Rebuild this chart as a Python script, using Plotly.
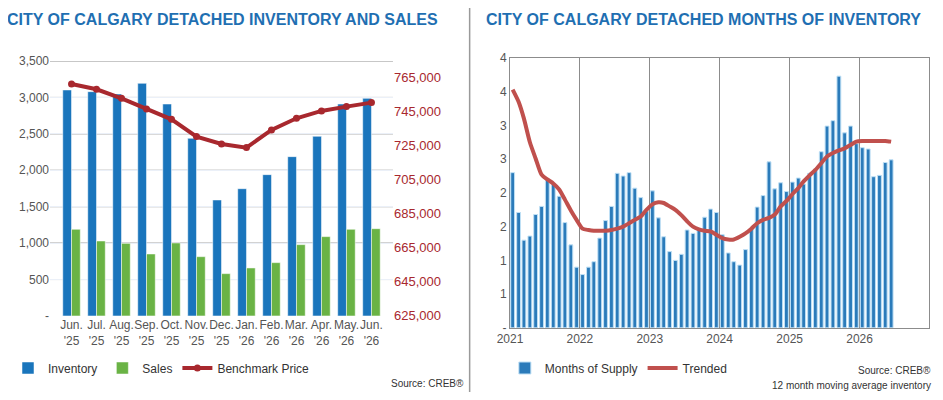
import pandas as pd
import plotly.graph_objects as go
from plotly.subplots import make_subplots

BLUE = "#1a75bc"
GREEN = "#6ab345"
RED = "#a8282e"
TITLE_BLUE = "#1f6fb2"


class CalgaryReport:
    """
    Builds the two-panel detached market summary (inventory/sales and months of supply).
    """

    def __init__(self):
        self.sales_df = pd.DataFrame({
            'month': ["Jun.<br>'25", "Jul.<br>'25", "Aug.<br>'25", "Sep.<br>'25", "Oct.<br>'25", "Nov.<br>'25",
                      "Dec.<br>'25", "Jan.<br>'26", "Feb.<br>'26", "Mar.<br>'26", "Apr.<br>'26", "May.<br>'26",
                      "Jun.<br>'26"],
            'inventory': [3102, 3079, 3047, 3193, 2909, 2438, 1592, 1747, 1940, 2187, 2466, 2909, 2987],
            'sales': [1189, 1029, 997, 851, 1002, 814, 581, 659, 732, 979, 1089, 1189, 1198],
            'price': [761070, 757930, 752630, 746340, 740260, 730050, 725730, 723570, 733980, 740850,
                      745170, 747720, 750080],
        })
        supply = [
            2.30, 1.71, 1.30, 1.36, 1.68, 1.80, 2.21, 2.14, 1.95, 1.56, 1.23, 0.90,  # 2021
            0.79, 0.90, 0.98, 1.33, 1.59, 1.80, 2.29, 2.25, 2.30, 2.07, 1.93, 1.73,  # 2022
            2.03, 1.63, 1.35, 1.13, 1.00, 1.09, 1.45, 1.40, 1.46, 1.64, 1.76, 1.71,  # 2023
            1.38, 1.11, 0.98, 0.93, 1.16, 1.46, 1.79, 1.96, 2.46, 2.06, 2.15, 2.02,  # 2024
            2.16, 2.22, 2.13, 2.29, 2.35, 2.61, 2.99, 3.07, 3.73, 2.89, 2.99, 2.73,  # 2025
            2.67, 2.65, 2.24, 2.26, 2.45, 2.49,  # 2026
        ]
        trend = [
            3.53, 3.35, 3.10, 2.75, 2.51, 2.27, 2.20, 2.14, 2.05, 1.90, 1.74, 1.60,
            1.47, 1.45, 1.44, 1.44, 1.44, 1.45, 1.47, 1.50, 1.55, 1.60, 1.65, 1.75,
            1.83, 1.86, 1.85, 1.80, 1.75, 1.67, 1.58, 1.50, 1.46, 1.44, 1.43, 1.38,
            1.33, 1.31, 1.31, 1.35, 1.40, 1.47, 1.55, 1.60, 1.63, 1.68, 1.80, 1.88,
            1.98, 2.07, 2.17, 2.26, 2.34, 2.44, 2.54, 2.59, 2.63, 2.66, 2.71, 2.76,
            2.77, 2.77, 2.77, 2.77, 2.77, 2.76,
        ]
        self.supply_df = pd.DataFrame({
            'date': pd.date_range('2021-01-01', periods=len(supply), freq='MS') + pd.Timedelta(days=14),
            'supply': supply,
            'trend': trend,
        })

    def _left_panel(self, fig: go.Figure) -> None:
        """Inventory and sales bars with the benchmark price on a second axis."""
        df = self.sales_df
        fig.add_trace(go.Bar(x=df['month'], y=df['inventory'], name='Inventory', marker_color=BLUE,
                             legend='legend'), row=1, col=1, secondary_y=False)
        fig.add_trace(go.Bar(x=df['month'], y=df['sales'], name='Sales', marker_color=GREEN,
                             legend='legend'), row=1, col=1, secondary_y=False)
        fig.add_trace(go.Scatter(x=df['month'], y=df['price'], name='Benchmark Price', mode='lines+markers',
                                 line=dict(color=RED, width=4), marker=dict(size=7, color=RED),
                                 legend='legend'), row=1, col=1, secondary_y=True)

    def _right_panel(self, fig: go.Figure) -> None:
        """Months of supply bars with the trended line."""
        df = self.supply_df
        fig.add_trace(go.Bar(x=df['date'], y=df['supply'], name='Months of Supply', marker_color='#2b7bba',
                             marker_line=dict(color='#bfe0f5', width=1), legend='legend2',
                             width=1000 * 3600 * 24 * 20), row=1, col=2)
        fig.add_trace(go.Scatter(x=df['date'], y=df['trend'], name='Trended', mode='lines',
                                 line=dict(color='#c0504d', width=4, shape='spline', smoothing=0.6),
                                 legend='legend2'), row=1, col=2)

    def build(self) -> go.Figure:
        """Assembles both panels and styles them like the printed report."""
        fig = make_subplots(rows=1, cols=2, specs=[[{"secondary_y": True}, {}]])
        self._left_panel(fig)
        self._right_panel(fig)

        # page body keeps an 8px margin, so the figure is drawn 16px smaller than the window
        tick_font = dict(family="Arial, Liberation Sans", size=12, color="#555555")
        fig.update_layout(
            template="plotly_white",
            width=927, height=384, margin=dict(l=0, r=0, t=0, b=0, autoexpand=False),
            paper_bgcolor='white', plot_bgcolor='white', barmode='group', bargap=0.3, bargroupgap=0.0,
            font=tick_font,
            xaxis=dict(domain=[0.0453, 0.4153], showgrid=False, tickfont=dict(family="Arial, Liberation Sans",
                                                                              size=12, color="#555555"),
                       tickangle=0, ticks='', automargin=False),
            yaxis=dict(domain=[0.198, 0.862], range=[0, 3500], zeroline=False, tickfont=tick_font,
                       automargin=False, tickvals=[0, 500, 1000, 1500, 2000, 2500, 3000, 3500],
                       ticktext=['-', '500', '1,000', '1,500', '2,000', '2,500', '3,000', '3,500']),
            yaxis2=dict(range=[624400, 774600], tickvals=list(range(625000, 766000, 20000)),
                        tickformat=',', showgrid=False, zeroline=False, automargin=False,
                        tickfont=dict(family="Arial, Liberation Sans", size=13, color=RED)),
            xaxis2=dict(domain=[0.5415, 0.994], type='date', range=['2021-01-01', '2027-01-01'],
                        tickvals=[f'{y}-01-01' for y in range(2021, 2027)],
                        ticktext=[str(y) for y in range(2021, 2027)], automargin=False,
                        showgrid=True, gridcolor='#8c8c8c', gridwidth=1, showline=True, linecolor='#8c8c8c',
                        mirror=True, tickfont=tick_font, ticks='', tickangle=0),
            yaxis3=dict(domain=[0.167, 0.870], range=[0, 4], tickvals=[0, 0.5, 1, 1.5, 2, 2.5, 3, 3.5, 4],
                        ticktext=['-', '1', '1', '2', '2', '3', '3', '4', '4'], showgrid=False,
                        automargin=False, showline=True, linecolor='#8c8c8c', mirror=True, zeroline=False,
                        tickfont=tick_font),
            legend=dict(orientation='h', x=0.0, y=0.0625, xanchor='left', yanchor='middle',
                        font=dict(size=12, color='#333333'), bgcolor='rgba(0,0,0,0)'),
            legend2=dict(orientation='h', x=0.536, y=0.0625, xanchor='left', yanchor='middle',
                         font=dict(size=12, color='#333333'), bgcolor='rgba(0,0,0,0)'),
        )
        for v in [500, 1000, 1500, 2000, 2500, 3000, 3500]:
            fig.add_hline(y=v, line=dict(color='#8c8c8c', width=1), layer='below',
                          row=1, col=1, secondary_y=False)  # horizontal grid of the left panel

        title_font = dict(family="Arial, Liberation Sans", size=16, color=TITLE_BLUE)
        fig.add_annotation(text="<b>CITY OF CALGARY DETACHED INVENTORY AND SALES</b>", x=-0.003, y=0.969,
                           xref='paper', yref='paper', xanchor='left', yanchor='middle', showarrow=False,
                           font=title_font)
        fig.add_annotation(text="<b>CITY OF CALGARY DETACHED MONTHS OF INVENTORY</b>", x=0.513, y=0.969,
                           xref='paper', yref='paper', xanchor='left', yanchor='middle', showarrow=False,
                           font=title_font)
        small = dict(family="Arial, Liberation Sans", size=10, color='#333333')
        fig.add_annotation(text="Source: CREB®", x=0.494, y=0.023, xref='paper', yref='paper',
                           xanchor='right', yanchor='middle', showarrow=False, font=small)
        fig.add_annotation(text="Source: CREB®", x=0.998, y=0.057, xref='paper', yref='paper',
                           xanchor='right', yanchor='middle', showarrow=False, font=small)
        fig.add_annotation(text="12 month moving average inventory", x=0.998, y=0.018, xref='paper',
                           yref='paper', xanchor='right', yanchor='middle', showarrow=False, font=small)
        fig.add_shape(type='line', x0=0.498, x1=0.498, y0=0, y1=1, xref='paper', yref='paper',
                      line=dict(color='#9a9a9a', width=1.5))
        return fig


if __name__ == '__main__':
    report = CalgaryReport()
    figure = report.build()
    figure.write_html("out.html")
